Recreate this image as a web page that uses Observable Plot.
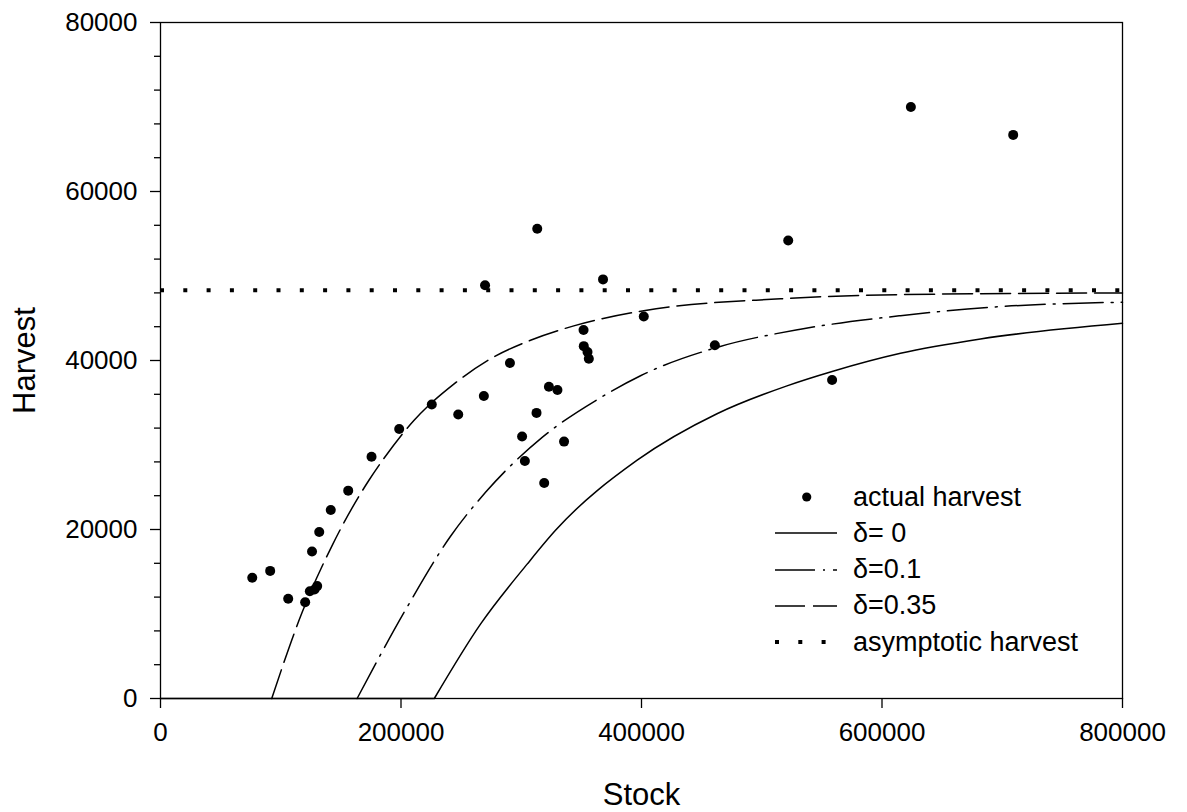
<!DOCTYPE html>
<html><head><meta charset="utf-8">
<script src="https://cdn.jsdelivr.net/npm/d3@7"></script>
<script src="https://cdn.jsdelivr.net/npm/@observablehq/plot@0.6"></script>
<style>
body{margin:0;background:#fff;}
#wrap{position:relative;width:1187px;height:812px;font-family:"Liberation Sans",Arial,sans-serif;}
#legend{position:absolute;left:775px;top:479px;font-size:27px;color:#000;line-height:1;}
.row{display:flex;align-items:center;height:36.25px;white-space:nowrap;}
.row svg{width:62px;height:20px;margin-right:16px;overflow:visible;flex:none;}
</style></head><body><div id="wrap"></div>
<script>
// actual harvest observations
const stock = [76300, 91200, 106200, 120300, 124200, 128100, 130300, 126000, 132000, 141600,
  156100, 175500, 198500, 225600, 247600, 268900, 269900, 290600, 300700, 303000,
  312700, 313300, 319100, 323000, 330100, 335600, 351800, 352000, 355100, 356200,
  368000, 401900, 461000, 522000, 558500, 624000, 709100];
const harvest = [14300, 15100, 11800, 11400, 12700, 12900, 13300, 17400, 19700, 22300,
  24600, 28600, 31900, 34800, 33600, 35800, 48900, 39700, 31000, 28100,
  33800, 55600, 25500, 36900, 36500, 30400, 43600, 41700, 41000, 40200,
  49600, 45200, 41800, 54200, 37700, 70000, 66700];

// delta = 0
const d0Stock = [227700, 266100, 304900, 328500, 396400, 462800, 521000, 558500, 615400, 681900, 800000];
const d0Harvest = [0, 8800, 15900, 19900, 28200, 33700, 37000, 38700, 40850, 42550, 44400];
// delta = 0.1
const d01Stock = [163500, 205000, 241200, 270300, 317400, 365900, 399200, 461500, 532200, 615400, 701000, 800000];
const d01Harvest = [0, 10800, 19200, 24400, 30900, 35600, 38200, 41500, 43700, 45300, 46400, 46900];
// delta = 0.35
const d035Stock = [92500, 117800, 142700, 173200, 185700, 210700, 243900, 274400, 307700, 343700, 401900, 515600, 615400, 800000];
const d035Harvest = [0, 10200, 18100, 25800, 28400, 32900, 37200, 40200, 42400, 44100, 45900, 47300, 47800, 48000];

const asymptote = 48300;

const xTicks = [0, 200000, 400000, 600000, 800000];
const yTicks = [0, 20000, 40000, 60000, 80000];
const yMinorTicks = [4000, 8000, 12000, 16000, 24000, 28000, 32000, 36000, 44000, 48000, 52000, 56000, 64000, 68000, 72000, 76000];

const legendLabels = ["actual harvest", "δ= 0", "δ=0.1", "δ=0.35", "asymptotic harvest"];

const pts = stock.map((s, i) => ({s, h: harvest[i]}));
const toRows = (xs, ys) => xs.map((s, i) => ({s, h: ys[i]}));
const c0 = toRows(d0Stock, d0Harvest);
const c01 = toRows(d01Stock, d01Harvest);
const c035 = toRows(d035Stock, d035Harvest);

const dash01 = "40,8,2,8";
const dash035 = "30,8";
const dashAsym = "4,19.3";

const chart = Plot.plot({
  width: 1187, height: 812,
  marginLeft: 160, marginRight: 65, marginTop: 22, marginBottom: 114,
  x: {domain: [0, 800000]},
  y: {domain: [0, 80000]},
  style: {fontFamily: "'Liberation Sans', Arial, sans-serif", background: "white", color: "black"},
  marks: [
    Plot.ruleY([{x1: 0, x2: d0Stock[0], y: 0}], {x1: "x1", x2: "x2", y: "y", stroke: "black", strokeWidth: 1.5}),
    Plot.ruleY([asymptote], {stroke: "black", strokeWidth: 4, strokeDasharray: dashAsym}),
    Plot.line(c0, {x: "s", y: "h", curve: "monotone-x", stroke: "black", strokeWidth: 1.5}),
    Plot.line(c01, {x: "s", y: "h", curve: "monotone-x", stroke: "black", strokeWidth: 1.5, strokeDasharray: dash01}),
    Plot.line(c035, {x: "s", y: "h", curve: "monotone-x", stroke: "black", strokeWidth: 1.5, strokeDasharray: dash035}),
    Plot.dot(pts, {x: "s", y: "h", r: 5, fill: "black", stroke: null}),
    Plot.frame({stroke: "black", strokeWidth: 1.3}),
    Plot.axisY({ticks: yTicks, tickSize: 10, tickPadding: 13, tickFormat: d => String(d), label: null, fontSize: 26, strokeWidth: 1.3}),
    Plot.axisY({ticks: yMinorTicks, tickSize: 6, tickFormat: () => "", label: null, strokeWidth: 1.3}),
    Plot.axisY({ticks: [], label: "Harvest", labelAnchor: "center", labelOffset: 148, labelArrow: false, fontSize: 31}),
    Plot.axisX({ticks: xTicks, tickSize: 10, tickPadding: 14, tickFormat: d => String(d), label: null, fontSize: 26, strokeWidth: 1.3}),
    Plot.axisX({ticks: [], label: "Stock", labelAnchor: "center", labelOffset: 106, labelArrow: false, fontSize: 31})
  ]
});

const wrap = document.getElementById("wrap");
wrap.appendChild(chart);

// legend overlay
const swatches = [
  '<circle cx="31.7" cy="10" r="4.6" fill="black"/>',
  '<line x1="0" x2="62" y1="10" y2="10" stroke="black" stroke-width="1.5"/>',
  '<line x1="0" x2="62" y1="10" y2="10" stroke="black" stroke-width="1.5" stroke-dasharray="' + dash01 + '"/>',
  '<line x1="0" x2="62" y1="10" y2="10" stroke="black" stroke-width="1.5" stroke-dasharray="' + dash035 + '"/>',
  '<line x1="0" x2="62" y1="10" y2="10" stroke="black" stroke-width="4" stroke-dasharray="' + dashAsym + '"/>'
];
const legend = document.createElement("div");
legend.id = "legend";
legend.innerHTML = legendLabels.map((lab, i) =>
  `<div class="row"><svg viewBox="0 0 62 20">${swatches[i]}</svg><span>${lab}</span></div>`).join("");
wrap.appendChild(legend);
</script>
</body></html>
